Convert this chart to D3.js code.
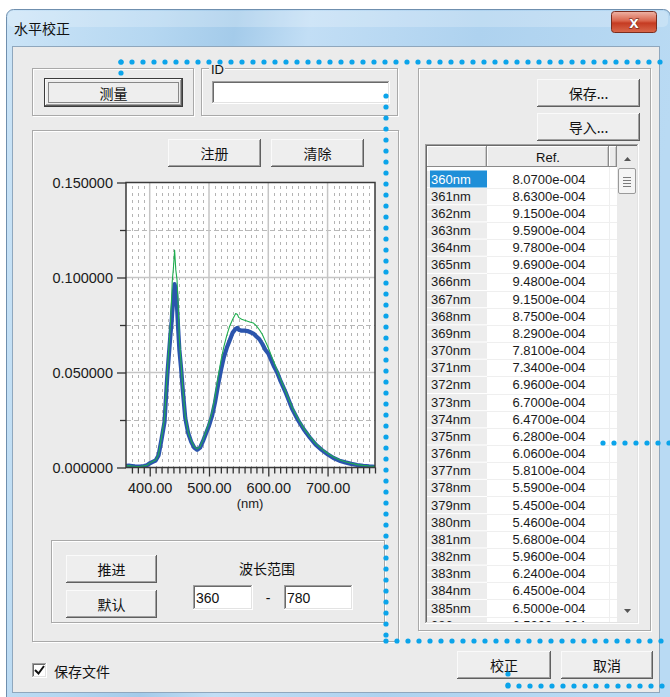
<!DOCTYPE html>
<html><head><meta charset="utf-8">
<script src="https://cdn.jsdelivr.net/npm/d3@7"></script>
<style>html,body{margin:0;padding:0;background:#fff;overflow:hidden}</style>
</head><body><svg id="dlg" width="670" height="697"></svg>
<script>
// ---- spectrum data (nm, relative irradiance) ----
const wavelengths = [
  360, 365, 370, 375, 380, 385, 390, 395, 400, 405,
  410, 415, 420, 425, 428, 430, 435, 437, 438, 440,
  442, 444, 446, 448, 450, 453, 456, 460, 465, 470,
  475, 480, 485, 490, 495, 500, 505, 510, 515, 520,
  525, 530, 535, 540, 545, 548, 550, 555, 560, 565,
  570, 575, 580, 585, 590, 595, 600, 605, 610, 615,
  620, 630, 640, 650, 660, 670, 680, 690, 700, 710,
  720, 730, 740, 750, 760, 770, 780
];
const measured = [
  .00080, .00094, .00078, .00062, .00054, .00064, .00080, .00110, .00220, .00300,
  .00370, .00650, .01500, .02400, .04000, .05000, .07000, .07700, .08200, .08900,
  .09650, .09400, .08500, .07300, .06200, .05200, .04000, .02600, .01800, .01350,
  .01050, .00930, .01050, .01400, .01800, .02200, .02700, .03400, .04300, .05100,
  .05800, .06300, .06700, .07100, .07300, .07350, .07250, .07200, .07200, .07180,
  .07120, .07050, .06900, .06750, .06500, .06200, .06000, .05650, .05300, .05000,
  .04600, .03900, .03100, .02500, .02000, .01580, .01200, .00930, .00700, .00500,
  .00360, .00270, .00190, .00130, .00090, .00060, .00040
];
const reference = [
  .000807, .000969, .000781, .000628, .000546, .000650, .00085, .00120, .00230, .00310,
  .00390, .00700, .01600, .02600, .04200, .05200, .07600, .09000, .09800, .10500,
  .11440, .10400, .09900, .08600, .06800, .05400, .04100, .02700, .01850, .01400,
  .01100, .00980, .01100, .01480, .01900, .02350, .02900, .03700, .04700, .05600,
  .06350, .06950, .07450, .07800, .08100, .08050, .07900, .07800, .07750, .07700,
  .07650, .07600, .07450, .07250, .07000, .06650, .06300, .05900, .05500, .05100,
  .04700, .03950, .03180, .02580, .02060, .01640, .01260, .00980, .00750, .00550,
  .00410, .00300, .00220, .00150, .00110, .00080, .00060
];

// axis ticks
const yTicks = [0, 0.05, 0.10, 0.15];
const yMinorTicks = [0.025, 0.075, 0.125];
const xTicks = [400, 500, 600, 700];
const xMinorTicks = [370, 380, 390, 410, 420, 430, 440, 450, 460, 470, 480, 490,
  510, 520, 530, 540, 550, 560, 570, 580, 590, 610, 620, 630, 640, 650, 660, 670,
  680, 690, 710, 720, 730, 740, 750, 760, 770, 780];

// reference table rows
const tableWavelengths = [360, 361, 362, 363, 364, 365, 366, 367, 368, 369, 370, 371, 372,
  373, 374, 375, 376, 377, 378, 379, 380, 381, 382, 383, 384, 385, 386];
const tableRef = [8.07e-4, 8.63e-4, 9.15e-4, 9.59e-4, 9.78e-4, 9.69e-4, 9.48e-4, 9.15e-4,
  8.75e-4, 8.29e-4, 7.81e-4, 7.34e-4, 6.96e-4, 6.70e-4, 6.47e-4, 6.28e-4, 6.06e-4, 5.81e-4,
  5.59e-4, 5.45e-4, 5.46e-4, 5.68e-4, 5.96e-4, 6.24e-4, 6.45e-4, 6.50e-4, 6.52e-4];

const svg = d3.select('#dlg');
const CJK = '"Noto Sans CJK SC", "Noto Sans", sans-serif';
const LAT = '"Liberation Sans", Arial, sans-serif';
const FACE = '#ebebeb';
const defs = svg.append('defs');

function hline(g, x1, x2, y, c) {
  g.append('line').attr('x1', x1).attr('x2', x2).attr('y1', y + 0.5).attr('y2', y + 0.5)
    .attr('stroke', c).attr('stroke-width', 1);
}
function vline(g, x, y1, y2, c) {
  g.append('line').attr('x1', x + 0.5).attr('x2', x + 0.5).attr('y1', y1).attr('y2', y2)
    .attr('stroke', c).attr('stroke-width', 1);
}
function label(g, x, y, txt, opt = {}) {
  return g.append('text').attr('x', x).attr('y', y).text(txt)
    .attr('font-family', opt.font || CJK).attr('font-size', opt.size || 14)
    .attr('fill', opt.fill || '#111').attr('text-anchor', opt.anchor || 'middle')
    .attr('dominant-baseline', opt.base || 'central');
}

// ---- window frame ----
const tg = defs.append('linearGradient').attr('id', 'glass').attr('x1', 0).attr('x2', 1).attr('y1', 0).attr('y2', 0.15);
[['0', '#cbe4f7'], ['0.22', '#b5d7f1'], ['0.34', '#a4cbea'], ['0.45', '#c2def5'], ['0.7', '#aed2ef'], ['1', '#b9daf3']]
  .forEach(([o, c]) => tg.append('stop').attr('offset', o).attr('stop-color', c));
const cg = defs.append('linearGradient').attr('id', 'closebtn').attr('x1', 0).attr('x2', 0).attr('y1', 0).attr('y2', 1);
[['0', '#eeb4a6'], ['0.45', '#d9644b'], ['0.55', '#c53b22'], ['1', '#d9694c']]
  .forEach(([o, c]) => cg.append('stop').attr('offset', o).attr('stop-color', c));

const frame = svg.append('g');
frame.append('rect').attr('x', 6.5).attr('y', 9.5).attr('width', 664).attr('height', 700).attr('rx', 7)
  .attr('fill', 'url(#glass)').attr('stroke', '#6f8fae');
frame.append('rect').attr('x', 8).attr('y', 11).attr('width', 660).attr('height', 16).attr('rx', 5)
  .attr('fill', '#ffffff').attr('opacity', 0.22);
label(frame, 14, 28, '水平校正', { anchor: 'start', size: 14 });
frame.append('rect').attr('x', 611.5).attr('y', 11.5).attr('width', 45).attr('height', 21).attr('rx', 3)
  .attr('fill', 'url(#closebtn)').attr('stroke', '#7a2d1f');
frame.append('text').attr('x', 634).attr('y', 22.5).text('x').attr('font-family', LAT).attr('font-weight', 'bold')
  .attr('font-size', 17).attr('fill', '#fff').attr('stroke', '#5a1c12').attr('stroke-width', 0.8)
  .attr('paint-order', 'stroke').attr('text-anchor', 'middle').attr('dominant-baseline', 'central');

// client area
svg.append('rect').attr('x', 12.5).attr('y', 46.5).attr('width', 647).attr('height', 646)
  .attr('fill', FACE).attr('stroke', '#8fa7bd');

const ui = svg.append('g');

function groupBox(x, y, w, h) {
  ui.append('rect').attr('x', x + 1.5).attr('y', y + 1.5).attr('width', w - 2).attr('height', h - 2)
    .attr('fill', 'none').attr('stroke', '#ffffff');
  ui.append('rect').attr('x', x + 0.5).attr('y', y + 0.5).attr('width', w - 2).attr('height', h - 2)
    .attr('fill', 'none').attr('stroke', '#a9a9a9');
}
function button(x, y, w, h, txt, opt = {}) {
  const g = ui.append('g');
  g.append('rect').attr('x', x).attr('y', y).attr('width', w).attr('height', h).attr('fill', '#eeeeee');
  let ix = x, iy = y, iw = w, ih = h;
  if (opt.isDefault) {
    g.append('rect').attr('x', x + 0.5).attr('y', y + 0.5).attr('width', w - 1).attr('height', h - 1)
      .attr('fill', 'none').attr('stroke', '#3c3c3c');
    ix = x + 1; iy = y + 1; iw = w - 2; ih = h - 2;
  }
  hline(g, ix, ix + iw - 1, iy, '#fafafa');
  vline(g, ix, iy, iy + ih - 1, '#fafafa');
  hline(g, ix, ix + iw, iy + ih - 1, '#5f5f5f');
  vline(g, ix + iw - 1, iy, iy + ih, '#5f5f5f');
  hline(g, ix + 1, ix + iw - 1, iy + ih - 2, '#a0a0a0');
  vline(g, ix + iw - 2, iy + 1, iy + ih - 1, '#a0a0a0');
  if (opt.isDefault) {
    g.append('rect').attr('x', x + 4.5).attr('y', y + 4.5).attr('width', w - 9).attr('height', h - 9)
      .attr('fill', 'none').attr('stroke', '#222').attr('stroke-dasharray', '1,1');
  }
  label(g, x + w / 2, y + h / 2, txt, { size: 14 });
}
function textBox(x, y, w, h, txt) {
  const g = ui.append('g');
  g.append('rect').attr('x', x).attr('y', y).attr('width', w).attr('height', h).attr('fill', '#fff');
  hline(g, x, x + w, y, '#a0a0a0');
  vline(g, x, y, y + h, '#a0a0a0');
  hline(g, x + 1, x + w - 1, y + 1, '#6a6a6a');
  vline(g, x + 1, y + 1, y + h - 1, '#6a6a6a');
  hline(g, x, x + w, y + h - 1, '#ffffff');
  vline(g, x + w - 1, y, y + h, '#ffffff');
  hline(g, x + 1, x + w - 1, y + h - 2, '#e3e3e3');
  vline(g, x + w - 2, y + 1, y + h - 1, '#e3e3e3');
  if (txt) label(g, x + 3, y + h / 2 + 0.5, txt, { font: LAT, size: 14, anchor: 'start' });
}

// top controls
groupBox(32, 68, 163, 49);
button(44, 78, 139, 29, '测量', { isDefault: true });
groupBox(201, 68, 198, 49);
ui.append('rect').attr('x', 209).attr('y', 62).attr('width', 16).attr('height', 12).attr('fill', FACE);
label(ui, 211, 69, 'ID', { font: LAT, size: 13, anchor: 'start' });
textBox(212, 81, 178, 23, '');

// chart group
groupBox(32, 130, 368, 513);
button(168, 139, 93, 28, '注册');
button(271, 139, 93, 28, '清除');

// range group
groupBox(51, 540, 335, 84);
button(66, 555, 91, 28, '推进');
button(66, 590, 91, 28, '默认');
label(ui, 267, 568, '波长范围', { size: 14 });
textBox(193, 585, 60, 25, '360');
label(ui, 268, 598, '-', { font: LAT, size: 14 });
textBox(284, 585, 69, 25, '780');

// save-file checkbox
textBox(32, 663, 15, 15, '');
ui.append('path').attr('d', 'M35 670 L38.5 673.5 L44 666').attr('fill', 'none')
  .attr('stroke', '#111').attr('stroke-width', 2);
label(ui, 54, 671, '保存文件', { size: 14, anchor: 'start' });

// right group and buttons
groupBox(418, 68, 234, 564);
button(537, 79, 103, 28, '保存...');
button(537, 113, 103, 28, '导入...');
button(457, 651, 94, 28, '校正');
button(561, 651, 92, 28, '取消');

// ---- reference table ----
const list = ui.append('g');
const LX = 425, LY = 144, LW = 214, LH = 480;
list.append('rect').attr('x', LX).attr('y', LY).attr('width', LW).attr('height', LH).attr('fill', '#fff');
defs.append('clipPath').attr('id', 'listclip').append('rect')
  .attr('x', LX + 2).attr('y', 167).attr('width', 190).attr('height', LY + LH - 2 - 167);
const rowH = 17.16, row0 = 179;
const rows = list.append('g').attr('clip-path', 'url(#listclip)');
const fmtSci = v => {
  const [m, e] = v.toExponential(4).split('e');
  const ex = Math.abs(+e);
  return m + 'e' + (+e < 0 ? '-' : '+') + String(ex).padStart(3, '0');
};
tableWavelengths.forEach((wl, i) => {
  const cy = row0 + i * rowH;
  rows.append('rect').attr('x', 427).attr('y', cy - rowH / 2 + 0.5).attr('width', 60).attr('height', rowH - 1)
    .attr('fill', '#ededed');
  hline(rows, 487, 617, Math.round(cy + rowH / 2), '#efefef');
  if (i === 0) {
    rows.append('rect').attr('x', 430).attr('y', cy - 8.5).attr('width', 57).attr('height', 17).attr('fill', '#1f8fd8');
  }
  label(rows, 431, cy, wl + 'nm', { font: LAT, size: 13, anchor: 'start', fill: i === 0 ? '#fff' : '#1a1a1a' });
  label(rows, 549, cy, fmtSci(tableRef[i]), { font: LAT, size: 13, fill: '#1a1a1a' });
});
vline(list, 609, 167, 622, '#efefef');
// header
const header = list.append('g');
[[427, 60, ''], [487, 122, 'Ref.'], [609, 8, '']].forEach(([x, w, t]) => {
  header.append('rect').attr('x', x).attr('y', 146).attr('width', w).attr('height', 21).attr('fill', '#ececec');
  hline(header, x, x + w, 146, '#ffffff');
  vline(header, x, 146, 167, '#ffffff');
  hline(header, x, x + w, 166, '#8a8a8a');
  vline(header, x + w - 1, 146, 167, '#8a8a8a');
  vline(header, x + w - 2, 147, 166, '#c8c8c8');
  if (t) label(header, x + w / 2, 157, t, { font: LAT, size: 13 });
});
// scrollbar
const sb = list.append('g');
sb.append('rect').attr('x', 617).attr('y', 146).attr('width', 20).attr('height', 476).attr('fill', '#ebebeb');
sb.append('path').attr('d', 'M624 161 L631 161 L627.5 157 Z').attr('fill', '#555');
sb.append('rect').attr('x', 618.5).attr('y', 168.5).attr('width', 17).attr('height', 25).attr('rx', 1.5)
  .attr('fill', '#f4f4f4').attr('stroke', '#9a9a9a');
[177, 180, 183, 186].forEach(y => hline(sb, 623, 631, y, '#7a7a7a'));
sb.append('path').attr('d', 'M624 609 L631 609 L627.5 613 Z').attr('fill', '#555');
// sunken border
hline(list, LX, LX + LW, LY, '#a0a0a0');
vline(list, LX, LY, LY + LH, '#a0a0a0');
hline(list, LX + 1, LX + LW - 1, LY + 1, '#6a6a6a');
vline(list, LX + 1, LY + 1, LY + LH - 1, '#6a6a6a');
hline(list, LX, LX + LW, LY + LH - 1, '#ffffff');
vline(list, LX + LW - 1, LY, LY + LH, '#ffffff');
hline(list, LX + 1, LX + LW - 1, LY + LH - 2, '#e3e3e3');
vline(list, LX + LW - 2, LY + 1, LY + LH - 1, '#e3e3e3');

// ---- spectrum chart ----
const x = d3.scaleLinear().domain([360, 780]).range([126, 375]);
const y = d3.scaleLinear().domain([0, 0.15]).range([467.5, 182.5]);
const chart = svg.append('g');
chart.append('rect').attr('x', 126).attr('y', 182.5).attr('width', 249).attr('height', 285).attr('fill', '#fff');

const grid = chart.append('g');
xMinorTicks.filter(v => v < 780).forEach(v => {
  grid.append('line').attr('x1', Math.round(x(v)) + 0.5).attr('x2', Math.round(x(v)) + 0.5)
    .attr('y1', 186).attr('y2', 467).attr('stroke', '#b4b4b4').attr('stroke-dasharray', '3,4');
});
yMinorTicks.forEach(v => {
  grid.append('line').attr('x1', 126).attr('x2', 375).attr('y1', Math.round(y(v)) + 0.5).attr('y2', Math.round(y(v)) + 0.5)
    .attr('stroke', '#b8b8b8').attr('stroke-dasharray', '5,3');
});
xTicks.forEach(v => {
  grid.append('line').attr('x1', x(v)).attr('x2', x(v)).attr('y1', 182.5).attr('y2', 467.5)
    .attr('stroke', '#c6c6c6').attr('stroke-width', 1.5);
});
yTicks.filter(v => v > 0 && v < 0.15).forEach(v => {
  grid.append('line').attr('x1', 126).attr('x2', 375).attr('y1', y(v)).attr('y2', y(v))
    .attr('stroke', '#c6c6c6').attr('stroke-width', 1.5);
});

defs.append('clipPath').attr('id', 'plotclip').append('rect')
  .attr('x', 126).attr('y', 182).attr('width', 249).attr('height', 286);
const spectrum = d3.line().x((d, i) => x(wavelengths[i])).y(d => y(d));
const curves = chart.append('g').attr('clip-path', 'url(#plotclip)');
curves.append('path').datum(measured).attr('d', spectrum).attr('fill', 'none')
  .attr('stroke', '#2b55ad').attr('stroke-width', 4.2).attr('stroke-linejoin', 'round');
curves.append('path').datum(reference).attr('d', spectrum).attr('fill', 'none')
  .attr('stroke', '#1fae4f').attr('stroke-width', 1.1).attr('stroke-linejoin', 'round');

// plot frame
chart.append('rect').attr('x', 126).attr('y', 182.5).attr('width', 249).attr('height', 285)
  .attr('fill', 'none').attr('stroke', '#3a3a3a').attr('stroke-width', 1.5);

function styleAxis(g) {
  g.select('.domain').remove();
  g.selectAll('.tick line').attr('stroke', '#333').attr('stroke-width', 1.3);
  g.selectAll('.tick text').attr('font-family', LAT).attr('font-size', 14.5).attr('fill', '#1a1a1a');
}
chart.append('g').attr('transform', 'translate(126,0)')
  .call(d3.axisLeft(y).tickValues(yTicks).tickSize(9).tickPadding(4).tickFormat(d3.format('.6f')))
  .call(styleAxis);
chart.append('g').attr('transform', 'translate(126,0)')
  .call(d3.axisLeft(y).tickValues(yMinorTicks).tickSize(6).tickFormat(''))
  .call(styleAxis);
chart.append('g').attr('transform', 'translate(0,467.5)')
  .call(d3.axisBottom(x).tickValues(xTicks).tickSize(9).tickPadding(6).tickFormat(d3.format('.2f')))
  .call(styleAxis);
chart.append('g').attr('transform', 'translate(0,467.5)')
  .call(d3.axisBottom(x).tickValues(xMinorTicks).tickSize(6).tickFormat(''))
  .call(styleAxis);
chart.append('text').attr('x', 250).attr('y', 508).text('(nm)').attr('font-family', LAT)
  .attr('font-size', 13).attr('fill', '#1a1a1a').attr('text-anchor', 'middle');

// ---- dotted callout lines ----
const callouts = [
  [[121, 62], [670, 62]],
  [[121, 62], [121, 83]],
  [[386, 96], [386, 641]],
  [[386, 641], [670, 641]],
  [[603, 443], [670, 443]],
  [[508, 674], [508, 686]],
  [[508, 686], [670, 686]]
];
const dots = svg.append('g').attr('fill', '#0ba4ea');
callouts.forEach(([[x1, y1], [x2, y2]]) => {
  const len = Math.hypot(x2 - x1, y2 - y1);
  const n = Math.floor(len / 11 + 0.001);
  for (let k = 0; k <= n; k++) {
    const t = n === 0 ? 0 : (k * 11) / len;
    dots.append('circle').attr('cx', x1 + (x2 - x1) * t).attr('cy', y1 + (y2 - y1) * t).attr('r', 2.6);
  }
});
</script>
</body></html>
